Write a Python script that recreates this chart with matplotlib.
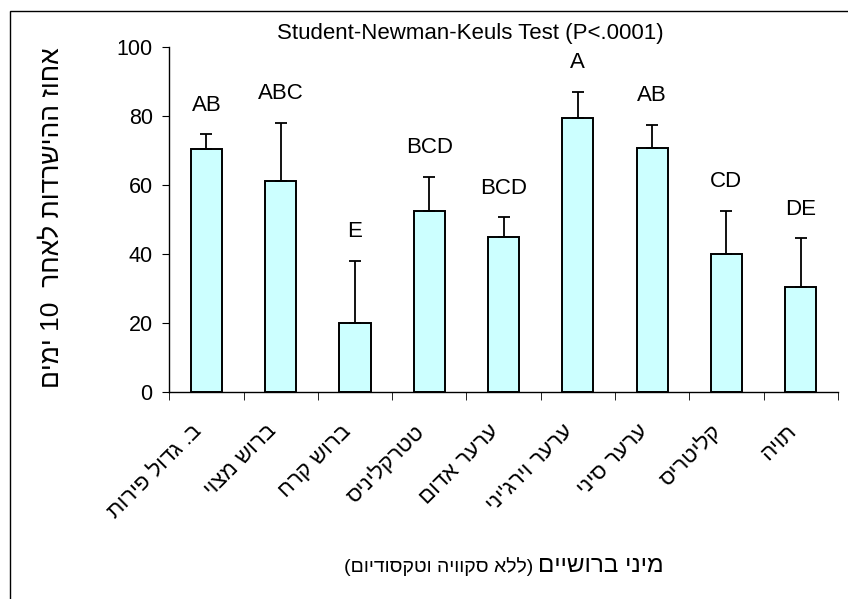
import re
import numpy as np
import matplotlib
matplotlib.use("Agg")
import matplotlib.pyplot as plt
from matplotlib.patches import Rectangle

plt.rcParams['font.family'] = ['Liberation Sans', 'DejaVu Sans']

species = ["ב. גדול פירות", "ברוש מצוי", "ברוש קרח", "טטרקליניס", "ערער אדום",
           "ערער וירג'יני", "ערער סיני", "קליטריס", "תויה"]
survival = [70.4, 61.2, 20.1, 52.5, 45.0, 79.4, 70.8, 39.9, 30.5]
err_up = [4.3, 16.8, 17.8, 9.8, 5.6, 7.7, 6.6, 12.6, 14.0]
groups = ["AB", "ABC", "E", "BCD", "BCD", "A", "AB", "CD", "DE"]

title = "Student-Newman-Keuls Test (P<.0001)"
ylab = "אחוז ההישרדות לאחר  10 ימים"
xlab_main = "מיני ברושיים"
xlab_note = "(ללא סקוויה וטקסודיום)"


def heb(s):
    # matplotlib has no bidi, so lay the Hebrew out right-to-left by hand
    parts = re.findall(r'[0-9]+|[^0-9]+', s)
    out = ''.join(p if p.isdigit() else p[::-1] for p in reversed(parts))
    return out.translate(str.maketrans('()', ')('))


fig = plt.figure(figsize=(8.48, 5.99), dpi=100)
ax = fig.add_axes([0.1997, 0.346, 0.988 - 0.1997, 0.921 - 0.346])

x = np.arange(1, len(species) + 1)
ax.bar(x, survival, width=0.42, color="#CCFFFF", edgecolor="black", linewidth=1.4, zorder=2)
ax.errorbar(x, survival, yerr=[np.zeros(len(x)), err_up], fmt="none", ecolor="black",
            elinewidth=1.3, capsize=4.5, capthick=1.3, zorder=3)

for xi, m, e, g in zip(x, survival, err_up, groups):
    ax.text(xi, m + e + 8.5, g, ha="center", va="center", fontsize=16)

ax.set_xlim(0.5, len(species) + 0.5)
ax.set_ylim(0, 100)
ax.set_yticks([0, 20, 40, 60, 80, 100])
ax.tick_params(axis="y", direction="out", length=5, labelsize=15.5, pad=7)
ax.set_xticks(x)
ax.set_xticklabels([heb(s) for s in species], rotation=45, ha="right", fontsize=16)
ax.tick_params(axis="x", which="major", length=0, pad=21)
ax.set_xticks(np.arange(0.5, len(species) + 1, 1.0), minor=True)
ax.tick_params(axis="x", which="minor", direction="out", length=6)
for s in ["top", "right"]:
    ax.spines[s].set_visible(False)
ax.spines["left"].set_linewidth(1.0)
ax.spines["bottom"].set_linewidth(1.0)

fig.text(470 / 848, 1 - 33 / 599, title, ha="center", va="center", fontsize=16)
fig.text(52 / 848, 1 - 218 / 599, heb(ylab), rotation=90, ha="center", va="center", fontsize=19)
fig.text(538 / 848, 1 - 566 / 599, heb(xlab_main), ha="left", va="center", fontsize=17.5)
fig.text(533 / 848, 1 - 567 / 599, heb(xlab_note), ha="right", va="center", fontsize=14)

# outer frame, only the left and top edges fall inside the canvas
fig.patches.append(Rectangle((10 / 848, -0.5), 2.0, 1.5 - 11 / 599, transform=fig.transFigure,
                             fill=False, edgecolor="black", linewidth=1.0))

fig.savefig("out.png", dpi=100)
